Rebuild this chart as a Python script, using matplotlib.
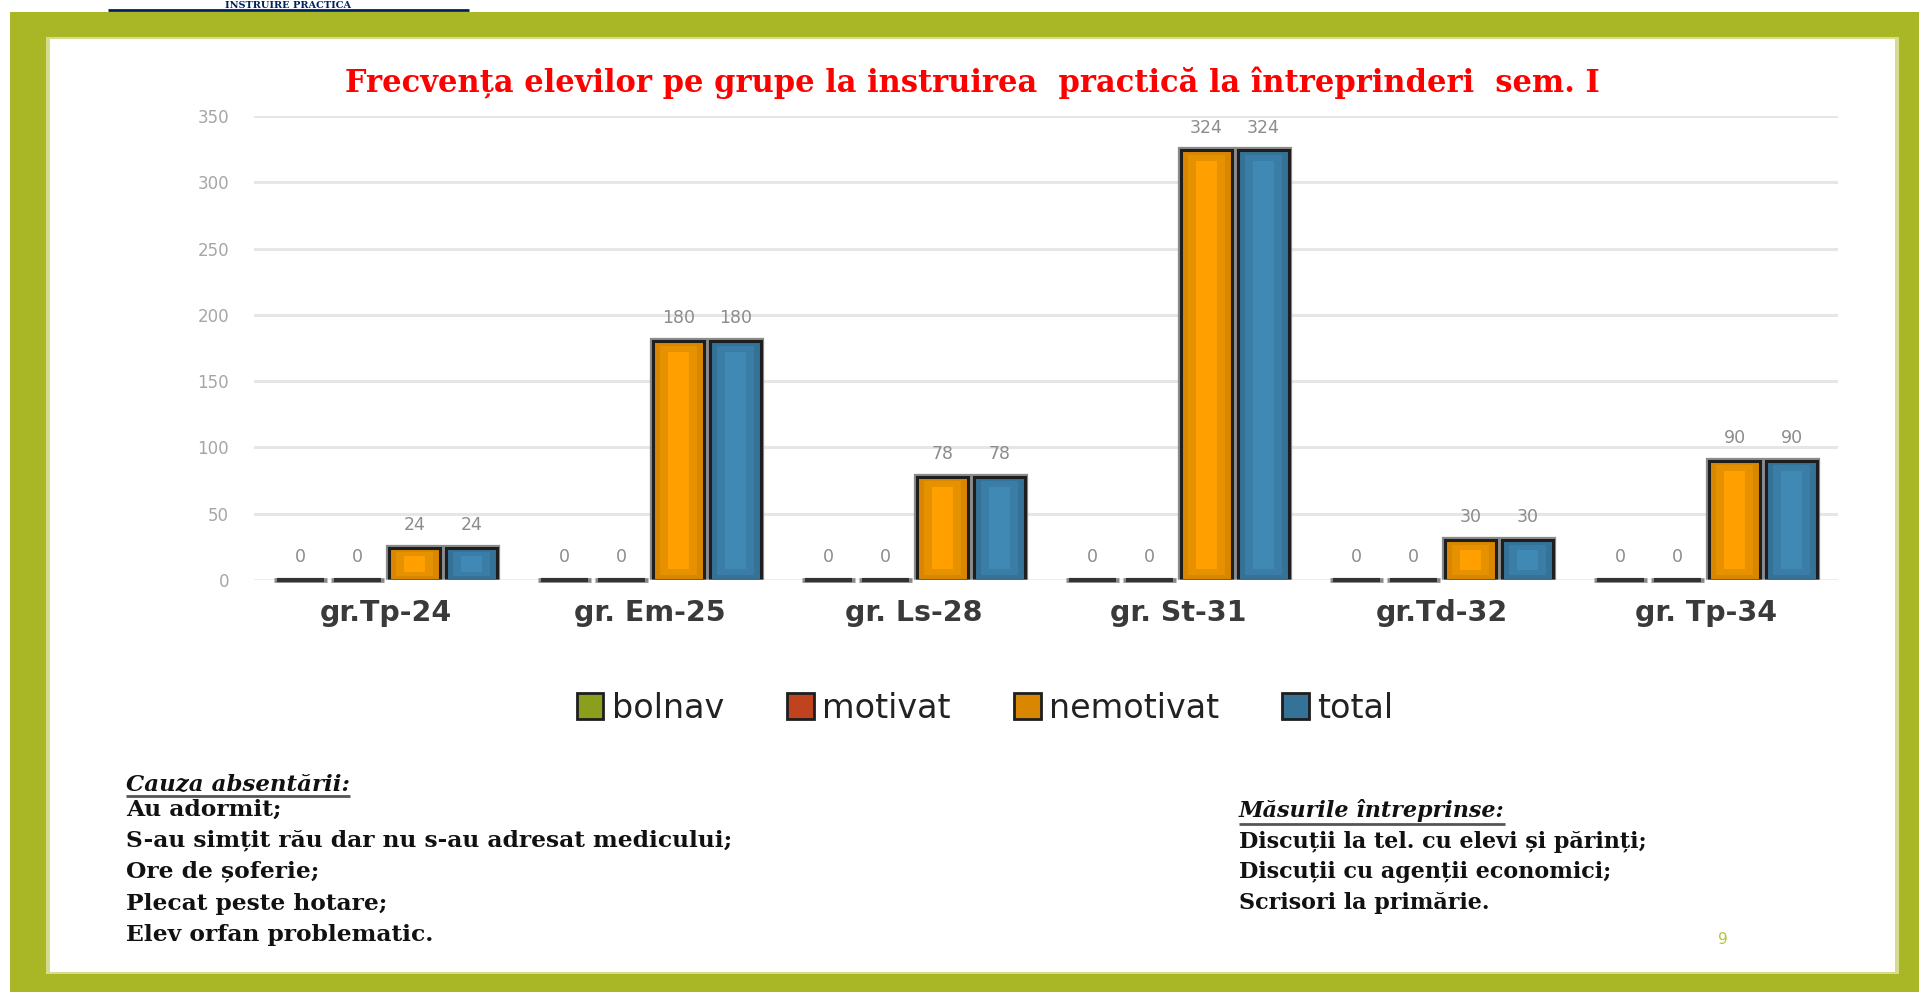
import numpy as np
import matplotlib
matplotlib.use("Agg")
import matplotlib.pyplot as plt
from matplotlib.patches import Rectangle, Patch

# ---------------- data ----------------
groups = ["gr.Tp-24", "gr. Em-25", "gr. Ls-28", "gr. St-31", "gr.Td-32", "gr. Tp-34"]
series_names = ["bolnav", "motivat", "nemotivat", "total"]
bolnav = [0, 0, 0, 0, 0, 0]
motivat = [0, 0, 0, 0, 0, 0]
nemotivat = [24, 180, 78, 324, 30, 90]
total = [24, 180, 78, 324, 30, 90]
yticks = [0, 50, 100, 150, 200, 250, 300, 350]

title = "Frecvența elevilor pe grupe la instruirea  practică la întreprinderi  sem. I"
cause_head = "Cauza absentării:"
causes = ["Au adormit;",
          "S-au simțit rău dar nu s-au adresat medicului;",
          "Ore de șoferie;",
          "Plecat peste hotare;",
          "Elev orfan problematic."]
measures_head = "Măsurile întreprinse:"
measures = ["Discuții la tel. cu elevi și părinți;",
            "Discuții cu agenții economici;",
            "Scrisori la primărie."]
page_no = "9"
header = "INSTRUIRE PRACTICA"

# ---------------- style ----------------
outer_c = ["#8C9F1C", "#C0431F", "#D98700", "#357297"]
mid_c = ["#8C9F1C", "#C0431F", "#E69100", "#3A7DA6"]
inner_c = ["#8C9F1C", "#C0431F", "#FF9F00", "#4089B5"]
olive = "#A9B727"
W, H = 1919, 992

fig = plt.figure(figsize=(W / 100, H / 100), dpi=100)
fig.patch.set_facecolor("white")

# background / slide frame axes in pixel coordinates
bg = fig.add_axes([0, 0, 1, 1])
bg.set_xlim(0, W)
bg.set_ylim(H, 0)
bg.axis("off")
bg.set_zorder(0)
bg.add_patch(Rectangle((10, 12), W - 10, H - 12, facecolor=olive, edgecolor="none"))
bg.add_patch(Rectangle((46, 37), 1899 - 46, 974 - 37, facecolor="#D5DC8E", edgecolor="none"))
bg.add_patch(Rectangle((50, 39), 1895 - 50, 972 - 39, facecolor="white", edgecolor="none"))

# small header in the white strip at the very top
bg.text(288, 7.5, header, color="#002060", fontsize=7, fontweight="bold",
        family="DejaVu Serif", ha="center", va="baseline")
bg.plot([108, 469], [9.5, 9.5], color="#002060", lw=2.0, solid_capstyle="butt")

# title
bg.text(972, 83, title, color="#FF0000", fontsize=22, fontweight="bold",
        family="DejaVu Serif", ha="center", va="center")

# ---------------- chart ----------------
ax = fig.add_axes([254 / W, (H - 580) / H, (1838 - 254) / W, (580 - 116) / H])
ax.set_zorder(1)
ax.patch.set_alpha(0)

data = [bolnav, motivat, nemotivat, total]
x = np.arange(len(groups))
step = 0.216
width = 0.19
for i, vals in enumerate(data):
    v = np.array(vals, dtype=float)
    xi = x + (i - 1.5) * step
    nz = v > 0
    # gray halo around real bars
    ax.bar(xi[nz], v[nz], width, facecolor="none", edgecolor="#8A8A8A", lw=4.5, zorder=2)
    cont = ax.bar(xi, v, width, color=outer_c[i],
                  edgecolor=["#1E1E1E" if n else "none" for n in nz], lw=2.2, zorder=3)
    # zero-valued bars appear as a thick dark line on the baseline
    if (~nz).any():
        ax.hlines(v[~nz], xi[~nz] - width / 2 - 0.005, xi[~nz] + width / 2 + 0.005,
                  color="#8A8A8A", lw=3.4, zorder=7, clip_on=False)
        ax.hlines(v[~nz], xi[~nz] - width / 2 + 0.006, xi[~nz] + width / 2 - 0.006,
                  color="#333333", lw=3.0, zorder=8, clip_on=False)
    ins1 = np.minimum(3.5, 0.12 * v)
    ax.bar(xi, v - 2 * ins1, width * 0.74, bottom=ins1, color=mid_c[i], lw=0, zorder=4)
    ins2 = np.minimum(8.0, 0.25 * v)
    ax.bar(xi, v - 2 * ins2, width * 0.42, bottom=ins2, color=inner_c[i], lw=0, zorder=5)
    ax.bar_label(cont, labels=[str(int(t)) for t in v], padding=10, color="#8C8C8C",
                 fontsize=12.5)

ax.axhline(0, color="white", alpha=0.35, lw=2.0, zorder=6)
ax.set_xlim(-0.5, len(groups) - 0.5)
ax.set_ylim(0, 350)
ax.set_yticks(yticks)
ax.set_yticklabels([str(t) for t in yticks], color="#A6A6A6", fontsize=12)
ax.set_xticks(x)
ax.set_xticklabels(groups, fontsize=20.5, fontweight="bold", color="#3A3A3A")
ax.tick_params(axis="y", length=0, pad=18)
ax.tick_params(axis="x", length=0, pad=14)
ax.yaxis.grid(True, color="#E6E6E6", lw=2.2)
ax.set_axisbelow(True)
for s in ax.spines.values():
    s.set_visible(False)

handles = [Patch(facecolor=outer_c[i], edgecolor="#1E1E1E", lw=2) for i in range(4)]
fig.legend(handles, series_names, loc="center", bbox_to_anchor=(985 / W, 1 - 708 / H),
           ncol=4, frameon=False, fontsize=24, handlelength=0.8, handleheight=0.8,
           handletextpad=0.25, columnspacing=1.9, labelcolor="#222222")

# ---------------- notes ----------------
note_kw = dict(fontweight="bold", family="DejaVu Serif", color="#111111",
               va="center", ha="left")
h1 = bg.text(126, 784, cause_head, style="italic", fontsize=16.5, **note_kw)
for k, line in enumerate(causes):
    bg.text(126, [810, 840, 871, 904, 935][k], line, fontsize=16.8, **note_kw)
h2 = bg.text(1239, 811, measures_head, style="italic", fontsize=16, **note_kw)
for k, line in enumerate(measures):
    bg.text(1239, [842, 872, 903][k], line, fontsize=16, **note_kw)
bg.text(1723, 939, page_no, color="#B5C43A", fontsize=11, ha="center", va="center")

fig.canvas.draw()
r = fig.canvas.get_renderer()
for t in (h1, h2):
    bb = t.get_window_extent(r)
    yy = H - bb.y0 + 1
    bg.plot([bb.x0, bb.x1], [yy, yy], color="#555555", lw=2, solid_capstyle="butt")

fig.savefig("out.png", dpi=100)
